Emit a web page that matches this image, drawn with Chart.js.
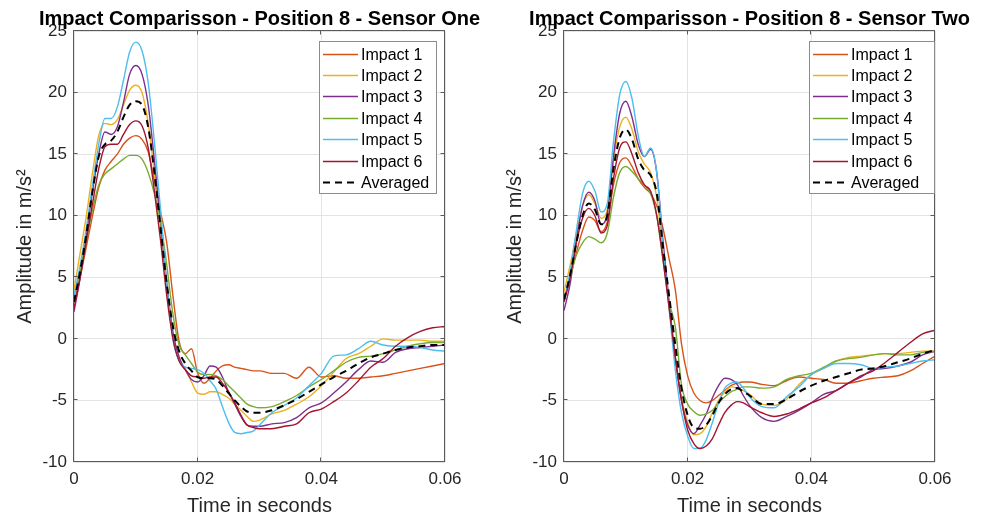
<!DOCTYPE html>
<html>
<head>
<meta charset="utf-8">
<script src="https://cdn.jsdelivr.net/npm/chart.js@4.4.1/dist/chart.umd.min.js"></script>
<style>
  html, body { margin: 0; padding: 0; background: #fff; }
  #wrap { position: relative; width: 982px; height: 521px; overflow: hidden; }
  canvas { position: absolute; top: 0; }
  #sensorOne { left: 0; }
  #sensorTwo { left: 490px; }
</style>
</head>
<body>
<div id="wrap">
  <canvas id="sensorOne" width="491" height="521"></canvas>
  <canvas id="sensorTwo" width="492" height="521"></canvas>
</div>
<script>
const FONT = "'Liberation Sans', Arial, Helvetica, sans-serif";

// sample times in milliseconds (1 ms steps up to 30 ms, then 2 ms)
const timeMs = [0, 1, 2, 3, 4, 5, 6, 7, 8, 9, 10, 11, 12, 13, 14, 15, 16, 17, 18, 19, 20,
  21, 22, 23, 24, 25, 26, 27, 28, 29, 30, 32, 34, 36, 38, 40, 42, 44, 46, 48, 50, 52, 54, 56, 58, 60];

const seriesLabels = ['Impact 1', 'Impact 2', 'Impact 3', 'Impact 4', 'Impact 5', 'Impact 6', 'Averaged'];
const seriesColors = ['#D95319', '#EDB120', '#7E2F8E', '#77AC30', '#4DBEEE', '#A2142F', '#000000'];

// Sensor One
const oneImpact1 = [3.0, 5.0, 7.5, 10.0, 12.3, 13.7, 14.4, 15.0, 15.8, 16.3, 16.5,
  16.2, 15.2, 12.8, 10.3, 7.8, 3.5, -0.2, -1.2, -0.8, -2.8,
  -3.6, -3.2, -2.6, -2.2, -2.1, -2.3, -2.4, -2.5, -2.6, -2.6,
  -2.8, -2.8, -3.2, -2.3, -3.1, -3.0, -3.2, -3.2, -3.1, -3.0, -2.8, -2.6, -2.4, -2.2, -2.0];
const oneImpact2 = [4.0, 7.0, 10.0, 13.5, 16.5, 17.5, 17.4, 17.8, 19.0, 20.2, 20.6,
  20.0, 17.5, 13.5, 9.0, 4.5, 0.5, -1.5, -2.5, -3.5, -4.4,
  -4.5, -4.3, -4.3, -4.5, -4.8, -5.3, -5.8, -6.3, -6.7, -6.6,
  -6.1, -5.8, -5.3, -4.7, -3.8, -2.7, -1.6, -1.2, -0.6, 0.0, -0.1, -0.1, -0.1, -0.2, -0.2];
const oneImpact3 = [2.2, 5.0, 8.5, 12.0, 15.0, 16.8, 16.6, 17.2, 19.2, 21.5, 22.2,
  21.5, 19.0, 14.5, 9.5, 4.5, 0.5, -1.5, -2.5, -3.3, -3.5,
  -3.0, -2.2, -2.3, -3.1, -4.3, -5.3, -6.3, -7.0, -7.1, -7.1,
  -6.9, -6.8, -6.4, -5.6, -5.2, -4.4, -3.5, -2.5, -1.8, -1.9, -1.1, -0.8, -0.7, -0.6, -0.5];
const oneImpact4 = [3.5, 5.5, 8.0, 10.5, 12.5, 13.4, 13.8, 14.2, 14.6, 14.9, 14.9,
  14.6, 13.5, 11.8, 9.5, 6.0, 2.0, -0.5, -1.3, -2.0, -2.7,
  -2.9, -2.9, -3.0, -3.3, -3.8, -4.3, -4.8, -5.3, -5.5, -5.6,
  -5.5, -5.1, -4.6, -3.9, -3.3, -2.6, -1.9, -1.5, -1.4, -1.2, -0.9, -0.6, -0.4, -0.3, -0.3];
const oneImpact5 = [3.5, 6.0, 9.0, 12.5, 15.8, 17.9, 17.9, 18.8, 21.0, 23.3, 24.1,
  23.4, 20.8, 16.0, 10.5, 4.5, 0.0, -1.8, -2.3, -2.4, -2.5,
  -2.8, -3.4, -4.1, -5.5, -6.8, -7.6, -7.7, -7.6, -7.5, -7.0,
  -6.0, -5.4, -4.8, -3.8, -2.8, -1.4, -1.3, -0.8, -0.2, -0.5, -0.6, -0.6, -0.7, -0.9, -1.0];
const oneImpact6 = [2.5, 5.0, 8.0, 11.0, 13.8, 15.6, 15.8, 15.8, 16.6, 17.4, 17.7,
  17.3, 15.5, 12.0, 8.0, 3.5, 0.0, -1.8, -2.5, -3.0, -3.1,
  -3.2, -3.1, -3.1, -3.6, -4.3, -5.2, -6.2, -7.0, -7.2, -7.3,
  -7.3, -7.1, -6.9, -6.0, -5.7, -5.1, -4.4, -3.4, -2.3, -1.6, -0.6, 0.1, 0.6, 0.9, 1.0];
const oneAveraged = [3.0, 5.5, 8.5, 12.0, 14.8, 15.8, 16.1, 16.8, 18.0, 19.0, 19.3,
  19.0, 17.2, 13.5, 9.0, 4.5, 1.0, -1.0, -2.0, -2.6, -3.1,
  -3.2, -3.2, -3.3, -3.8, -4.4, -5.0, -5.5, -5.9, -6.0, -6.0,
  -5.8, -5.4, -4.9, -4.3, -3.7, -3.1, -2.6, -2.0, -1.5, -1.2, -0.9, -0.7, -0.6, -0.5, -0.5];

// Sensor Two
const twoImpact1 = [3.0, 5.0, 7.0, 8.8, 9.9, 9.6, 8.7, 9.5, 12.5, 14.3, 14.7,
  14.0, 13.0, 12.3, 11.8, 10.8, 9.0, 6.5, 4.0, -0.4, -3.0,
  -4.4, -5.0, -5.2, -5.0, -4.6, -4.2, -3.8, -3.6, -3.5, -3.5,
  -3.7, -3.8, -3.4, -3.1, -3.2, -3.3, -3.6, -3.6, -3.4, -3.2, -3.1, -3.0, -2.6, -2.0, -1.4];
const twoImpact2 = [3.8, 6.0, 8.5, 10.8, 11.7, 11.0, 9.8, 10.5, 14.5, 17.2, 18.0,
  17.0, 15.2, 14.2, 13.5, 11.5, 7.0, 2.8, -1.5, -4.8, -6.8,
  -7.8, -7.7, -7.1, -6.0, -5.0, -4.3, -3.9, -4.0, -4.2, -4.5,
  -5.3, -5.4, -4.9, -3.7, -2.9, -2.4, -1.8, -1.5, -1.4, -1.3, -1.2, -1.2, -1.1, -1.0, -1.0];
const twoImpact3 = [2.3, 4.5, 8.0, 10.8, 11.9, 11.2, 9.3, 10.2, 14.8, 18.3, 19.3,
  18.0, 15.8, 14.8, 15.4, 13.5, 8.0, 3.0, -1.5, -5.0, -7.0,
  -7.7, -7.0, -6.1, -4.8, -3.8, -3.2, -3.3, -3.7, -4.6, -5.4,
  -6.4, -6.7, -6.3, -5.8, -5.2, -4.5, -4.2, -3.6, -3.1, -2.5, -2.4, -2.2, -1.9, -1.3, -1.0];
const twoImpact4 = [3.2, 5.0, 6.8, 7.8, 8.3, 8.1, 7.8, 8.6, 11.5, 13.5, 14.0,
  13.6, 13.0, 12.5, 11.8, 10.0, 6.5, 3.0, 1.0, -3.7, -5.3,
  -5.9, -6.2, -6.1, -5.8, -5.2, -4.7, -4.3, -4.1, -3.9, -3.9,
  -4.0, -3.9, -3.3, -3.0, -2.8, -2.3, -1.8, -1.6, -1.5, -1.3, -1.2, -1.3, -1.3, -1.1, -1.0];
const twoImpact5 = [3.0, 5.5, 8.8, 11.8, 12.8, 12.0, 10.3, 11.0, 16.0, 19.8, 20.9,
  19.5, 16.5, 14.8, 15.5, 13.5, 7.5, 2.5, -2.5, -6.0, -7.9,
  -8.9, -8.9, -8.2, -6.8, -5.2, -4.0, -3.6, -3.5, -4.0, -4.7,
  -5.5, -5.6, -4.7, -3.9, -2.9, -2.4, -2.0, -2.0, -2.1, -2.4, -2.3, -2.2, -2.0, -1.8, -1.7];
const twoImpact6 = [3.0, 5.0, 7.8, 9.8, 10.6, 10.0, 8.6, 9.2, 13.0, 15.5, 16.0,
  15.0, 13.5, 12.5, 12.0, 10.0, 6.5, 2.5, -1.5, -5.0, -7.4,
  -8.5, -8.9, -8.7, -8.1, -7.0, -6.0, -5.4, -5.1, -5.2, -5.5,
  -6.0, -6.3, -6.1, -5.7, -5.2, -4.8, -4.2, -3.6, -3.0, -2.6, -1.9, -1.1, -0.3, 0.4, 0.7];
const twoAveraged = [3.2, 5.2, 7.8, 10.0, 11.0, 10.5, 9.3, 10.0, 13.8, 16.3, 17.0,
  16.2, 14.6, 13.7, 13.3, 11.8, 7.5, 3.5, -0.5, -4.0, -6.2,
  -7.2, -7.3, -7.0, -6.2, -5.2, -4.5, -4.1, -4.0, -4.3, -4.6,
  -5.3, -5.3, -4.9, -4.3, -3.8, -3.4, -3.1, -2.8, -2.5, -2.4, -2.2, -1.9, -1.6, -1.2, -0.9];

// title centred over the plot area; wider than the plot, so not squeezed to it
const plotTitle = {
    id: 'plotTitle',
    afterDraw(chart, args, opts) {
        const { ctx, chartArea } = chart;
        ctx.save();
        ctx.font = 'bold 20px ' + FONT;
        ctx.fillStyle = '#000000';
        ctx.textAlign = 'center';
        ctx.textBaseline = 'alphabetic';
        ctx.fillText(opts.text, (chartArea.left + chartArea.right) / 2, 25);
        ctx.restore();
    }
};

// box around the axes with inward tick marks, like the original figure
const axesFrame = {
    id: 'axesFrame',
    afterDatasetsDraw(chart) {
        const { ctx, chartArea, scales } = chart;
        const l = Math.round(chartArea.left) - 0.5, r = Math.round(chartArea.right) - 0.5;
        const t = Math.round(chartArea.top) - 0.5, b = Math.round(chartArea.bottom) - 0.5;
        ctx.save();
        ctx.strokeStyle = '#5a5a5a';
        ctx.lineWidth = 1;
        ctx.setLineDash([]);
        ctx.strokeRect(l, t, r - l, b - t);
        ctx.beginPath();
        scales.y.ticks.forEach(tk => {
            const py = Math.round(scales.y.getPixelForValue(tk.value)) - 0.5;
            ctx.moveTo(l, py); ctx.lineTo(l + 4, py);
            ctx.moveTo(r, py); ctx.lineTo(r - 4, py);
        });
        scales.x.ticks.forEach(tk => {
            const px = Math.round(scales.x.getPixelForValue(tk.value)) - 0.5;
            ctx.moveTo(px, b); ctx.lineTo(px, b - 4);
            ctx.moveTo(px, t); ctx.lineTo(px, t + 4);
        });
        ctx.stroke();
        ctx.restore();
    }
};

// legend drawn inside the plot, top right
const boxLegend = {
    id: 'boxLegend',
    afterDraw(chart, args, opts) {
        const { ctx } = chart;
        ctx.save();
        ctx.fillStyle = '#ffffff';
        ctx.fillRect(opts.left, opts.top, opts.width, opts.height);
        ctx.strokeStyle = '#8c8c8c';
        ctx.lineWidth = 1;
        ctx.strokeRect(opts.left + 0.5, opts.top + 0.5, opts.width, opts.height);
        ctx.font = '16px ' + FONT;
        ctx.textBaseline = 'middle';
        chart.data.datasets.forEach((ds, i) => {
            const y = Math.round(opts.top + 12.5 + i * opts.row) + 0.5;
            ctx.strokeStyle = ds.borderColor;
            ctx.lineWidth = ds.borderWidth;
            ctx.setLineDash(ds.borderDash || []);
            ctx.beginPath();
            ctx.moveTo(opts.left + 4, y);
            ctx.lineTo(opts.left + 39, y);
            ctx.stroke();
            ctx.fillStyle = '#000000';
            ctx.fillText(ds.label, opts.left + 42, y + 1);
        });
        ctx.restore();
    }
};

function xTickText(v) {
    const r = Math.round(v * 100) / 100;
    return r === 0 ? '0' : r.toFixed(2);
}

function makeChart(canvasId, titleText, series, rightPad, legendBox) {
    const datasets = series.map((vals, i) => ({
        label: seriesLabels[i],
        data: timeMs.map((ms, k) => ({ x: ms / 1000, y: vals[k] })),
        borderColor: seriesColors[i],
        borderWidth: i === 6 ? 2 : 1.4,
        borderDash: i === 6 ? [7, 5] : [],
        pointRadius: 0,
        cubicInterpolationMode: 'monotone',
        fill: false,
        order: 6 - i
    }));

    return new Chart(document.getElementById(canvasId).getContext('2d'), {
        type: 'line',
        data: { datasets },
        options: {
            responsive: false,
            animation: false,
            events: [],
            layout: { padding: { left: 0, right: rightPad, top: 31, bottom: 0 } },
            plugins: {
                legend: { display: false },
                tooltip: { enabled: false },
                title: { display: false },
                plotTitle: { text: titleText },
                boxLegend: legendBox
            },
            scales: {
                x: {
                    type: 'linear',
                    min: 0,
                    max: 0.06,
                    afterFit: (s) => { s.height = 59; },
                    ticks: {
                        stepSize: 0.02,
                        padding: 7,
                        maxRotation: 0,
                        color: '#262626',
                        font: { family: FONT, size: 17 },
                        callback: xTickText
                    },
                    grid: { color: '#e3e3e3', drawTicks: false },
                    border: { display: false },
                    title: {
                        display: true,
                        text: 'Time in seconds',
                        color: '#262626',
                        font: { family: FONT, size: 20 },
                        padding: { top: 0, bottom: 3 }
                    }
                },
                y: {
                    type: 'linear',
                    min: -10,
                    max: 25,
                    afterFit: (s) => { s.width = 74; },
                    ticks: {
                        stepSize: 5,
                        padding: 7,
                        color: '#262626',
                        font: { family: FONT, size: 17 }
                    },
                    grid: { color: '#e3e3e3', drawTicks: false },
                    border: { display: false },
                    title: {
                        display: true,
                        text: 'Amplitude in m/s²',
                        color: '#262626',
                        font: { family: FONT, size: 20 },
                        padding: { top: 13, bottom: 0 }
                    }
                }
            }
        },
        plugins: [axesFrame, boxLegend, plotTitle]
    });
}

makeChart('sensorOne', 'Impact Comparisson - Position 8 - Sensor One',
    [oneImpact1, oneImpact2, oneImpact3, oneImpact4, oneImpact5, oneImpact6, oneAveraged],
    46, { left: 319, top: 41, width: 117, height: 152, row: 21.4 });

makeChart('sensorTwo', 'Impact Comparisson - Position 8 - Sensor Two',
    [twoImpact1, twoImpact2, twoImpact3, twoImpact4, twoImpact5, twoImpact6, twoAveraged],
    47, { left: 319, top: 41, width: 125, height: 152, row: 21.4 });
</script>
</body>
</html>
